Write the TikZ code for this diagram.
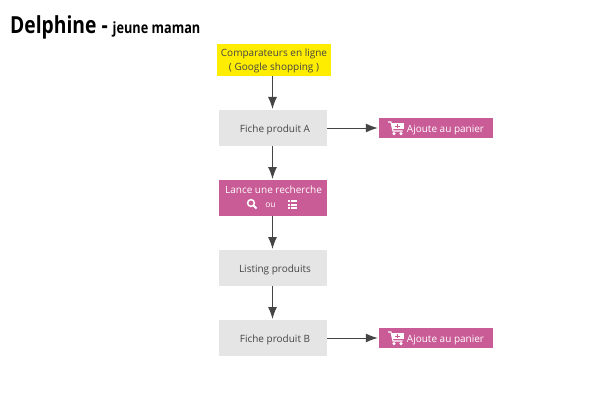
\documentclass[tikz,border=0pt]{standalone}
\usepackage{fontspec}
\setmainfont{Open Sans}
\newfontfamily\titlefont[FakeStretch=0.82]{Open Sans Bold}
\usetikzlibrary{arrows.meta}
\definecolor{pinkbox}{HTML}{C95B96}
\definecolor{greybox}{HTML}{E5E5E5}
\definecolor{yellowbox}{HTML}{FFED00}
\definecolor{ink}{HTML}{454545}
\tikzset{
  x=1pt,y=-1pt,
  boxbase/.style={minimum width=108pt,minimum height=36pt,inner sep=0pt,align=center,font=\fontsize{10}{14}\selectfont,text=ink},
  greyst/.style={boxbase,fill=greybox,text height=8pt,text depth=0pt},
  pinkst/.style={boxbase,fill=pinkbox,text=white},
  yellowst/.style={boxbase,fill=yellowbox,minimum width=114pt,minimum height=32pt},
  yellowtext/.style={inner sep=0pt,align=center,font=\fontsize{10}{14}\selectfont,text=ink},
  panier/.style={boxbase,fill=pinkbox,text=white,minimum width=114pt,minimum height=20pt,text height=8pt,text depth=0pt},
  conn/.style={draw=ink,line width=1pt,-{Latex[length=12pt,width=9pt]},shorten >=1pt},
  icon/.style={white,line width=1.3pt}
}
\newcommand{\carticon}[2]{%
  \begin{scope}[shift={(#1,#2)}]
    \draw[white,line width=1.1pt] (-8,-6) -- (-5,-6) -- (-3,3) -- (6.5,3);
    \fill[white] (-4.5,-5) rectangle (8,1.3);
    \fill[white] (-2,5.6) circle (1.7);
    \fill[white] (5,5.6) circle (1.7);
    \draw[pinkbox,line width=1pt] (1.5,-4) -- (1.5,0.2) (-0.6,-1.9) -- (3.6,-1.9);
  \end{scope}}
\begin{document}
\begin{tikzpicture}
\useasboundingbox (0,0) rectangle (595,420);
\fill[white] (0,0) rectangle (595,420);
\node[anchor=base west,inner sep=0pt] (title) at (10,34) {\titlefont\fontsize{23.5}{26}\selectfont Delphine - \fontsize{15.5}{18}\selectfont jeune maman};
\node[yellowst] (comp) at (274,60) {};
\node[yellowtext] (comptxt) at (274,60.6) {Comparateurs en ligne\\( Google shopping )};
\node[greyst] (ficheA) at (273,128) {\hspace*{4pt}Fiche produit A};
\node[pinkst] (lance) at (273,198) {};
\node[anchor=center,inner sep=0pt,text=white,font=\fontsize{10}{12}\selectfont] (lancetxt) at (273.5,189.6) {Lance une recherche};
\node[anchor=center,inner sep=0pt,text=white,font=\fontsize{8.5}{9}\selectfont] (ou) at (270.5,205) {ou};
\node[greyst] (listing) at (273,268) {\hspace*{4pt}Listing produits};
\node[greyst] (ficheB) at (273,338) {\hspace*{4pt}Fiche produit B};
\node[panier] (panA) at (436,128) {\hspace*{19pt}Ajoute au panier};
\node[panier] (panB) at (436,338) {\hspace*{19pt}Ajoute au panier};
% icons
\carticon{396}{128}
\carticon{396}{338}
\draw[icon,line width=1.5pt] (251,203) circle (3.4);
\draw[icon,line width=2pt] (253.5,205.5) -- (256.6,208.6);
\foreach \yy in {201,204.5,208}{
  \fill[white] (287.5,\yy-1) rectangle (289.5,\yy+1);
  \fill[white] (290.5,\yy-1) rectangle (297,\yy+1);
}
% connectors
\draw[conn] (272.5,76) -- (272.5,110);
\draw[conn] (272.5,146) -- (272.5,180);
\draw[conn] (272.5,216) -- (272.5,250);
\draw[conn] (272.5,286) -- (272.5,320);
\draw[conn] (ficheA.east) -- (panA.west);
\draw[conn] (ficheB.east) -- (panB.west);
\end{tikzpicture}
\end{document}
